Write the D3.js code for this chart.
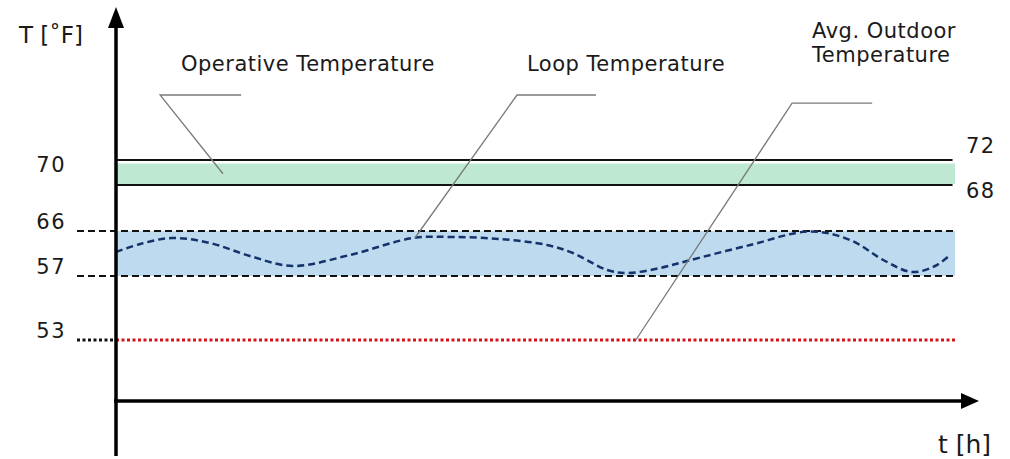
<!DOCTYPE html>
<html>
<head>
<meta charset="utf-8">
<script src="https://cdn.jsdelivr.net/npm/d3@7"></script>
<style>
  html, body { margin: 0; padding: 0; background: #fff; }
  svg text { font-family: "DejaVu Sans", "Noto Sans", sans-serif; fill: #1a1a1a; }
</style>
</head>
<body>
<svg id="chart" width="1010" height="459"></svg>
<script>
// ---- data ----
const tRange = [0, 24];                 // time domain (h)
const yBreaks = [53, 57, 66, 68, 72];   // temperatures marked on the chart (°F)
const leftTickLabels = ["70", "66", "57", "53"];
const leftTickValues = [70.7, 66, 57, 53];
const rightTickLabels = ["72", "68"];
const rightTickValues = [72, 68];
const operativeBand = [68, 72];
const loopBand = [57, 66];
const outdoorAvg = 53;
const loopT = [0, 0.69, 1.6, 2.69, 3.83, 5.06, 6.69, 8.5, 9.64, 10.98, 12.33, 13.07, 14.05, 14.62, 15.56, 16.33, 18.14, 19.85, 21.0, 22.0, 22.77, 23.43, 23.86];
const loopTemp = [61.8, 63.4, 64.6, 63.6, 61.0, 59.0, 61.2, 64.6, 64.8, 64.4, 63.2, 61.6, 58.2, 57.6, 58.6, 60.0, 63.2, 65.9, 64.2, 60.0, 57.8, 59.0, 61.2];
const labels = ["Operative Temperature", "Loop Temperature", "Avg. Outdoor", "Temperature"];
// leader lines: [tip t, tip T, elbow t, elbow T, end t]
const leaderOperative = [3.06, 69.8, 1.26, 82.4, 3.58];
const leaderLoop = [8.55, 64.6, 11.47, 82.4, 13.73];
const leaderOutdoor = [14.87, 53, 19.34, 81.1, 21.63];

// ---- scales ----
const svg = d3.select("#chart");
const x = d3.scaleLinear().domain(tRange).range([116, 955]);
const y = d3.scaleLinear().domain(yBreaks).range([340, 276, 231, 185, 160]);

// bands
svg.append("rect")
  .attr("x", x(0)).attr("width", x(24) - x(0))
  .attr("y", y(operativeBand[1]) + 3.5).attr("height", y(operativeBand[0]) - y(operativeBand[1]) - 4.5)
  .attr("fill", "#bfe8d2");
svg.append("rect")
  .attr("x", x(0)).attr("width", x(24) - x(0))
  .attr("y", y(loopBand[1])).attr("height", y(loopBand[0]) - y(loopBand[1]))
  .attr("fill", "#bddaee");

// operative lines
rightTickValues.forEach(v => {
  svg.append("line").attr("x1", x(0)).attr("x2", x(23.93))
    .attr("y1", y(v)).attr("y2", y(v))
    .attr("stroke", "#111").attr("stroke-width", 2);
});
// loop band dashed
loopBand.forEach(v => {
  svg.append("line").attr("x1", 77).attr("x2", x(24))
    .attr("y1", y(v)).attr("y2", y(v))
    .attr("stroke", "#111").attr("stroke-width", 2).attr("stroke-dasharray", "7,4");
});
// outdoor dotted
svg.append("line").attr("x1", 77).attr("x2", x(0))
  .attr("y1", y(outdoorAvg)).attr("y2", y(outdoorAvg))
  .attr("stroke", "#111").attr("stroke-width", 3).attr("stroke-dasharray", "3,2.5");
svg.append("line").attr("x1", x(0)).attr("x2", x(24))
  .attr("y1", y(outdoorAvg)).attr("y2", y(outdoorAvg))
  .attr("stroke", "#d4141c").attr("stroke-width", 3).attr("stroke-dasharray", "3,2.5");

// loop curve
const line = d3.line().x(d => x(d[0])).y(d => y(d[1])).curve(d3.curveCatmullRom.alpha(0.5));
svg.append("path").datum(loopT.map((t, i) => [t, loopTemp[i]]))
  .attr("d", line).attr("fill", "none")
  .attr("stroke", "#14336b").attr("stroke-width", 2.5).attr("stroke-dasharray", "7,4");

// leader lines
[leaderOperative, leaderLoop, leaderOutdoor].forEach(l => {
  svg.append("polyline")
    .attr("points", [[x(l[0]), y(l[1])], [x(l[2]), y(l[3])], [x(l[4]), y(l[3])]].map(p => p.join(",")).join(" "))
    .attr("fill", "none").attr("stroke", "#7a7a7a").attr("stroke-width", 1.3);
});

// axes
svg.append("line").attr("x1", 116).attr("x2", 116).attr("y1", 456).attr("y2", 22)
  .attr("stroke", "#000").attr("stroke-width", 3.5);
svg.append("path").attr("d", "M116,7 L108,28 L124,28 Z").attr("fill", "#000");
svg.append("line").attr("x1", 114).attr("x2", 964).attr("y1", 401).attr("y2", 401)
  .attr("stroke", "#000").attr("stroke-width", 3.5);
svg.append("path").attr("d", "M979,401 L961,393 L961,409 Z").attr("fill", "#000");

// tick labels
const fs = 21;
const nfs = 21;
leftTickLabels.forEach((lab, i) => {
  const yy = y(leftTickValues[i]);
  svg.append("text").attr("x", 66).attr("y", lab === "70" ? 172 : yy - 2)
    .attr("text-anchor", "end").attr("font-size", nfs).attr("letter-spacing", 1.5).text(lab);
});
rightTickLabels.forEach((lab, i) => {
  svg.append("text").attr("x", 966).attr("y", y(rightTickValues[i]) + (i === 0 ? -7 : 13))
    .attr("font-size", nfs).attr("letter-spacing", 1.5).text(lab);
});

// series labels
const ls = 0.5;
svg.append("text").attr("x", 181).attr("y", 71).attr("font-size", fs).attr("letter-spacing", ls).text(labels[0]);
svg.append("text").attr("x", 527).attr("y", 71).attr("font-size", fs).attr("letter-spacing", ls).text(labels[1]);
svg.append("text").attr("x", 812).attr("y", 38).attr("font-size", fs).attr("letter-spacing", ls).text(labels[2]);
svg.append("text").attr("x", 812).attr("y", 62).attr("font-size", fs).attr("letter-spacing", ls).text(labels[3]);

// axis titles
svg.append("text").attr("x", 19).attr("y", 43).attr("font-size", 23).text("T [˚F]");
svg.append("text").attr("x", 938).attr("y", 453).attr("font-size", 25).text("t [h]");
</script>
</body>
</html>
